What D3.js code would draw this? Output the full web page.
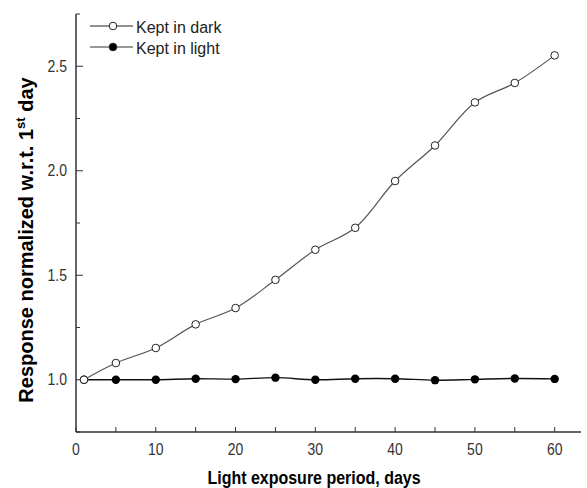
<!DOCTYPE html>
<html>
<head>
<meta charset="utf-8">
<script src="https://cdn.jsdelivr.net/npm/d3@7"></script>
<style>
  body { margin: 0; background: #fff; }
  text { font-family: "Liberation Sans", Arial, sans-serif; }
</style>
</head>
<body>
<svg id="chart" width="587" height="488"></svg>
<script>
var days = [1, 5, 10, 15, 20, 25, 30, 35, 40, 45, 50, 55, 60];
var keptDark = [1.0, 1.08, 1.152, 1.265, 1.343, 1.478, 1.622, 1.727, 1.951, 2.121, 2.327, 2.42, 2.552];
var keptLight = [1.0, 1.0, 1.0, 1.005, 1.003, 1.01, 1.0, 1.005, 1.005, 0.998, 1.002, 1.006, 1.004];
var xTicks = [0, 10, 20, 30, 40, 50, 60];
var yTicks = [1.0, 1.5, 2.0, 2.5];

var svg = d3.select("#chart");
var x = d3.scaleLinear().domain([0, 63.3]).range([76, 581]);
var y = d3.scaleLinear().domain([0.75, 2.75]).range([432, 14]);

// x axis (ticks point inward)
var xAxis = svg.append("g").attr("transform", "translate(0,432)");
xAxis.append("line").attr("x1", x(0)).attr("x2", x(63.3)).attr("stroke", "#333").attr("stroke-width", 1.5);
xAxis.selectAll("line.tk").data(d3.range(0, 61, 5)).enter().append("line")
    .attr("class", "tk")
    .attr("x1", function(d) { return x(d); }).attr("x2", function(d) { return x(d); })
    .attr("y1", 0).attr("y2", -5)
    .attr("stroke", "#333");
xAxis.selectAll("text").data(xTicks).enter().append("text")
    .attr("transform", function(d) { return "translate(" + x(d) + ",23) scale(1,1.12)"; })
    .attr("text-anchor", "middle").style("font-size", "14px").style("fill", "#333")
    .text(function(d) { return d; });

// y axis
var yAxis = svg.append("g").attr("transform", "translate(76,0)");
yAxis.append("line").attr("y1", y(0.75)).attr("y2", y(2.75)).attr("stroke", "#333").attr("stroke-width", 1.5);
yAxis.selectAll("line.tk").data(d3.range(0.75, 2.76, 0.25)).enter().append("line")
    .attr("class", "tk")
    .attr("y1", function(d) { return y(d); }).attr("y2", function(d) { return y(d); })
    .attr("x1", 0).attr("x2", function(d) { return Math.abs(d * 2 - Math.round(d * 2)) < 0.01 ? 7 : 4; })
    .attr("stroke", "#333");
yAxis.selectAll("text").data(yTicks).enter().append("text")
    .attr("transform", function(d) { return "translate(-9," + (y(d) + 5.5) + ") scale(1,1.12)"; })
    .attr("text-anchor", "end").style("font-size", "14px").style("fill", "#333")
    .text(function(d) { return d.toFixed(1); });

// axis titles
svg.append("text").attr("transform", "translate(314,484) scale(1,1.1)").attr("text-anchor", "middle")
    .style("font-size", "16px").style("font-weight", "bold").text("Light exposure period, days");
var yl = svg.append("text").attr("transform", "translate(33,240) rotate(-90)")
    .attr("text-anchor", "middle").style("font-size", "20px").style("font-weight", "bold");
yl.append("tspan").text("Response normalized w.r.t. 1");
yl.append("tspan").attr("dy", -8).style("font-size", "13px").text("st");
yl.append("tspan").attr("dy", 8).text(" day");

var line = d3.line().curve(d3.curveCatmullRom)
    .x(function(d) { return x(d[0]); }).y(function(d) { return y(d[1]); });

var darkPts = days.map(function(d, i) { return [d, keptDark[i]]; });
var lightPts = days.map(function(d, i) { return [d, keptLight[i]]; });

svg.append("path").datum(lightPts).attr("d", line).attr("fill", "none").attr("stroke", "#111").attr("stroke-width", 1.4);
svg.append("path").datum(darkPts).attr("d", line).attr("fill", "none").attr("stroke", "#555").attr("stroke-width", 1.2);

svg.selectAll("circle.light").data(lightPts).enter().append("circle")
    .attr("class", "light").attr("cx", function(d) { return x(d[0]); }).attr("cy", function(d) { return y(d[1]); })
    .attr("r", 4.2).attr("fill", "#000");
svg.selectAll("circle.dark").data(darkPts).enter().append("circle")
    .attr("class", "dark").attr("cx", function(d) { return x(d[0]); }).attr("cy", function(d) { return y(d[1]); })
    .attr("r", 3.8).attr("fill", "#fff").attr("stroke", "#222").attr("stroke-width", 1);

// legend
var legend = [["Kept in dark", "#fff", "#222", 1.1], ["Kept in light", "#000", "#777", 1.6]];
var lg = svg.selectAll("g.lg").data(legend).enter().append("g")
    .attr("transform", function(d, i) { return "translate(90," + (26 + i * 21) + ")"; });
lg.append("line").attr("x1", 0).attr("x2", 43).attr("stroke", function(d) { return d[2]; })
    .attr("stroke-width", function(d) { return d[3]; });
lg.append("circle").attr("cx", 23).attr("r", 3.8).attr("fill", function(d) { return d[1]; }).attr("stroke", "#222");
lg.append("text").attr("x", 46).attr("y", 7).style("font-size", "16px").style("fill", "#222").text(function(d) { return d[0]; });
</script>
</body>
</html>
